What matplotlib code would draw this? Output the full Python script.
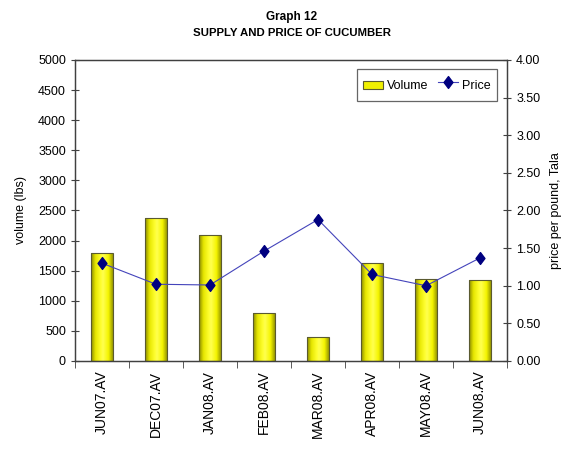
import numpy as np
import matplotlib
matplotlib.use("Agg")
import matplotlib.pyplot as plt
from matplotlib.colors import LinearSegmentedColormap
from matplotlib.path import Path
from matplotlib.patches import Patch, Rectangle
from matplotlib.lines import Line2D
from matplotlib.legend_handler import HandlerPatch

categories = ["JUN07.AV", "DEC07.AV", "JAN08.AV", "FEB08.AV", "MAR08.AV", "APR08.AV", "MAY08.AV", "JUN08.AV"]
volume = [1790, 2380, 2090, 790, 400, 1630, 1360, 1340]
price = [1.30, 1.02, 1.01, 1.46, 1.88, 1.15, 1.00, 1.37]
vol_ticks = [0, 500, 1000, 1500, 2000, 2500, 3000, 3500, 4000, 4500, 5000]
price_ticks = [0.0, 0.5, 1.0, 1.5, 2.0, 2.5, 3.0, 3.5, 4.0]

plt.rcParams['font.family'] = ['Liberation Sans', 'DejaVu Sans']
axis_color = '#404040'
line_color = '#4444bb'
marker_color = '#000080'

diamond = Path([(0, 1), (0.75, 0), (0, -1), (-0.75, 0), (0, 1)],
               [Path.MOVETO, Path.LINETO, Path.LINETO, Path.LINETO, Path.CLOSEPOLY])

fig = plt.figure(figsize=(5.71, 4.49), dpi=100)
ax = fig.add_axes([0.1313, 0.196, 0.7567, 0.6704])
ax2 = ax.twinx()

x = np.arange(len(categories))
bars = ax.bar(x, volume, width=0.4, color='#FFFF00', edgecolor='#5a5a30', linewidth=0.8, zorder=2)

# gradient fill inside bars
cmap = LinearSegmentedColormap.from_list(
    'yg', [(0.0, '#8c8c00'), (0.2, '#e6e600'), (0.45, '#ffff30'), (0.55, '#ffff50'),
           (0.8, '#f5f500'), (1.0, '#9a9a00')])
grad = np.linspace(0, 1, 64).reshape(1, -1)
for b in bars:
    x0, y0 = b.get_x(), b.get_y()
    w, h = b.get_width(), b.get_height()
    im = ax.imshow(grad, cmap=cmap, aspect='auto', extent=[x0, x0 + w, y0, y0 + h], zorder=2.5)
    im.set_clip_path(b)
    b.set_facecolor('none')
    b.set_zorder(3)

ax.set_xlim(-0.5, len(categories) - 0.5)
ax.set_ylim(0, 5000)
ax.set_yticks(vol_ticks)
ax.set_yticklabels([str(v) for v in vol_ticks], fontsize=9)
ax.set_xticks(x)
ax.set_xticklabels(categories, rotation=90, fontsize=10)
ax.set_xticks(np.arange(len(categories) + 1) - 0.5, minor=True)
ax.tick_params(axis='x', which='major', length=0, pad=7)
ax.tick_params(axis='x', which='minor', length=5, direction='out', color=axis_color)
ax.tick_params(axis='y', length=6, direction='inout', color=axis_color)
ax.set_ylabel("volume (lbs)", fontsize=9, labelpad=8)

ax2.set_ylim(0, 4.0)
ax2.set_yticks(price_ticks)
ax2.set_yticklabels([f"{p:.2f}" for p in price_ticks], fontsize=9)
ax2.tick_params(axis='y', length=6, direction='inout', color=axis_color)
ax2.set_ylabel("price per pound, Tala", fontsize=9, labelpad=7)

ax2.plot(x, price, color=line_color, linewidth=0.8, marker=diamond, markersize=8.5,
         markerfacecolor=marker_color, markeredgecolor=marker_color, zorder=4)

for a in (ax, ax2):
    for s in a.spines.values():
        s.set_color(axis_color)
        s.set_linewidth(0.9)


def small_patch(legend, orig_handle, xdescent, ydescent, width, height, fontsize):
    ph = 6.0
    return Rectangle((-xdescent, -ydescent + (height - ph) / 2), width, ph)


h1 = Patch(facecolor='#f0f000', edgecolor='#5a5a30', linewidth=0.8)
h2 = Line2D([0], [0], color=line_color, linewidth=0.8, marker=diamond, markersize=8.5,
            markerfacecolor=marker_color, markeredgecolor=marker_color)
leg = ax2.legend([h1, h2], ["Volume", "Price"], loc='upper right', ncol=2, fontsize=9,
                 frameon=True, fancybox=False, edgecolor='#404040', bbox_to_anchor=(0.977, 0.970),
                 borderaxespad=0, handlelength=1.6, handleheight=2.0, columnspacing=0.8,
                 handletextpad=0.3, borderpad=0.5,
                 handler_map={Patch: HandlerPatch(patch_func=small_patch)})
leg.get_frame().set_linewidth(0.9)

fig.text(0.511, 0.962, "Graph 12", ha='center', va='center', fontsize=8.5, fontweight='bold')
fig.text(0.511, 0.926, "SUPPLY AND PRICE OF CUCUMBER", ha='center', va='center', fontsize=8.2, fontweight='bold')

fig.savefig("out.png", dpi=100)
